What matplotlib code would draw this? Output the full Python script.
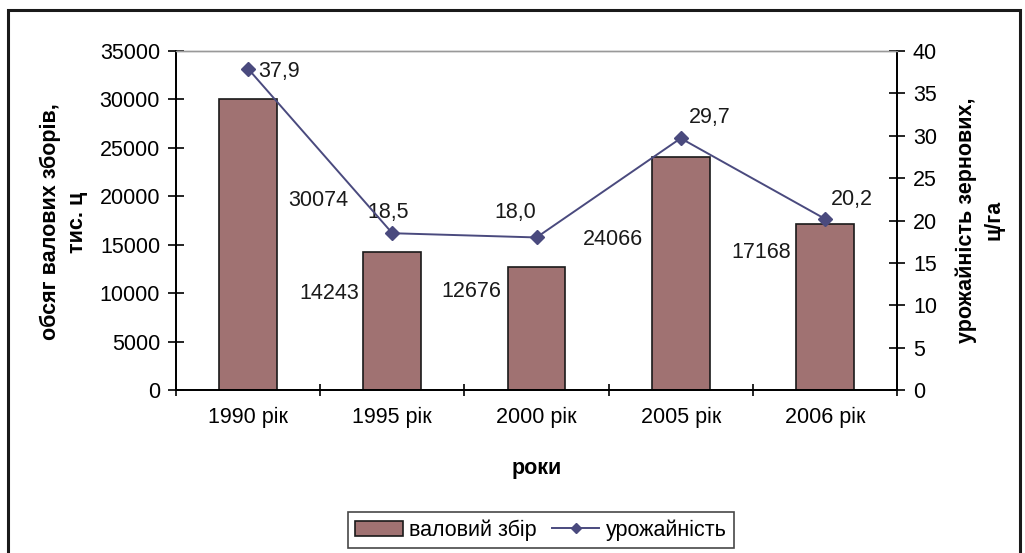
import matplotlib
matplotlib.use("Agg")
import matplotlib.pyplot as plt
from matplotlib.patches import Rectangle
import numpy as np

plt.rcParams['font.family'] = ['Liberation Sans', 'DejaVu Sans']

categories = ["1990 рік", "1995 рік", "2000 рік", "2005 рік", "2006 рік"]
gross_harvest = [30074, 14243, 12676, 24066, 17168]
yield_vals = [37.9, 18.5, 18.0, 29.7, 20.2]
yield_labels = ["37,9", "18,5", "18,0", "29,7", "20,2"]

# label placement (layout only)
bar_lbl_dx = [0.49, -0.44, -0.45, -0.47, -0.44]
bar_lbl_y = [19600, 10000, 10200, 15500, 14150]
line_lbl_off = [(7, -2), (-18, 15), (-30, 18), (6, 15), (4, 14)]

FS = 15.5
fig = plt.figure(figsize=(10.25, 5.53), dpi=100)
ax = fig.add_axes([176/1025, 1-390/553, (897-176)/1025, (390-51)/553])
ax2 = ax.twinx()

x = np.arange(len(categories))
bar_color = '#A07272'
line_color = '#4A4A7E'
ax.bar(x, gross_harvest, width=0.4, color=bar_color, edgecolor='#1a1a1a', linewidth=1.2, zorder=2,
       label='валовий збір')
ax.set_xlim(-0.5, len(categories) - 0.5)
ax.set_ylim(0, 35000)
ax.set_yticks(np.arange(0, 35001, 5000))
ax.set_xticks(np.arange(-0.5, len(categories), 1.0))
ax.set_xticklabels([])
ax.set_xticks(x, minor=True)
ax.set_xticklabels(categories, minor=True)
ax.tick_params(axis='x', which='minor', length=0, pad=12, labelsize=FS)
ax.tick_params(axis='x', which='major', direction='inout', length=9, width=1.2)
ax.tick_params(axis='y', direction='inout', length=11, width=1.2, labelsize=FS, pad=6)

for i, v in enumerate(gross_harvest):
    ax.text(x[i] + bar_lbl_dx[i], bar_lbl_y[i], str(v), ha='center', va='center', fontsize=FS,
            color='#1a1a1a', zorder=3)

ax2.plot(x, yield_vals, color=line_color, marker='D', markersize=7, linewidth=1.4, zorder=4,
         label='урожайність')
ax2.set_ylim(0, 40)
ax2.set_yticks(np.arange(0, 41, 5))
ax2.tick_params(axis='y', direction='inout', length=11, width=1.2, labelsize=FS, pad=6)
for i, v in enumerate(yield_vals):
    ax2.annotate(yield_labels[i], (x[i], v), xytext=line_lbl_off[i], textcoords='offset points',
                 ha='left', va='center', fontsize=FS, color='#1a1a1a')

for a in (ax, ax2):
    a.spines['top'].set_color('#999999')
    a.spines['left'].set_linewidth(1.3)
    a.spines['right'].set_linewidth(1.3)
    a.spines['bottom'].set_linewidth(1.3)
    a.spines['top'].set_linewidth(1.0)

ax.set_xlabel('роки', fontsize=FS, fontweight='bold', labelpad=22)
fig.text(50/1025, 1-222/553, 'обсяг валових зборів,', rotation=90, ha='center', va='center',
         fontsize=FS, fontweight='bold')
fig.text(78/1025, 1-222/553, 'тис. ц', rotation=90, ha='center', va='center',
         fontsize=FS, fontweight='bold')
fig.text(966/1025, 1-220/553, 'урожайність зернових,', rotation=90, ha='center', va='center',
         fontsize=FS, fontweight='bold')
fig.text(994/1025, 1-220/553, 'ц/га', rotation=90, ha='center', va='center',
         fontsize=FS, fontweight='bold')

h1, l1 = ax.get_legend_handles_labels()
h2, l2 = ax2.get_legend_handles_labels()
leg = fig.legend(h1 + h2, l1 + l2, loc='center', bbox_to_anchor=(541/1025, 1-530/553), ncol=2,
                 fontsize=FS, frameon=True, fancybox=False, edgecolor='#1a1a1a',
                 handlelength=2.2, handletextpad=0.3, columnspacing=0.7, borderpad=0.35,
                 markerscale=0.8)
leg.get_frame().set_linewidth(1.2)

fig.patches.append(Rectangle((8/1025, -0.05), (1020-8)/1025, (1.05 - 10/553), transform=fig.transFigure,
                             fill=False, edgecolor='#1a1a1a', linewidth=2.2))

fig.savefig('out.png', dpi=100)
